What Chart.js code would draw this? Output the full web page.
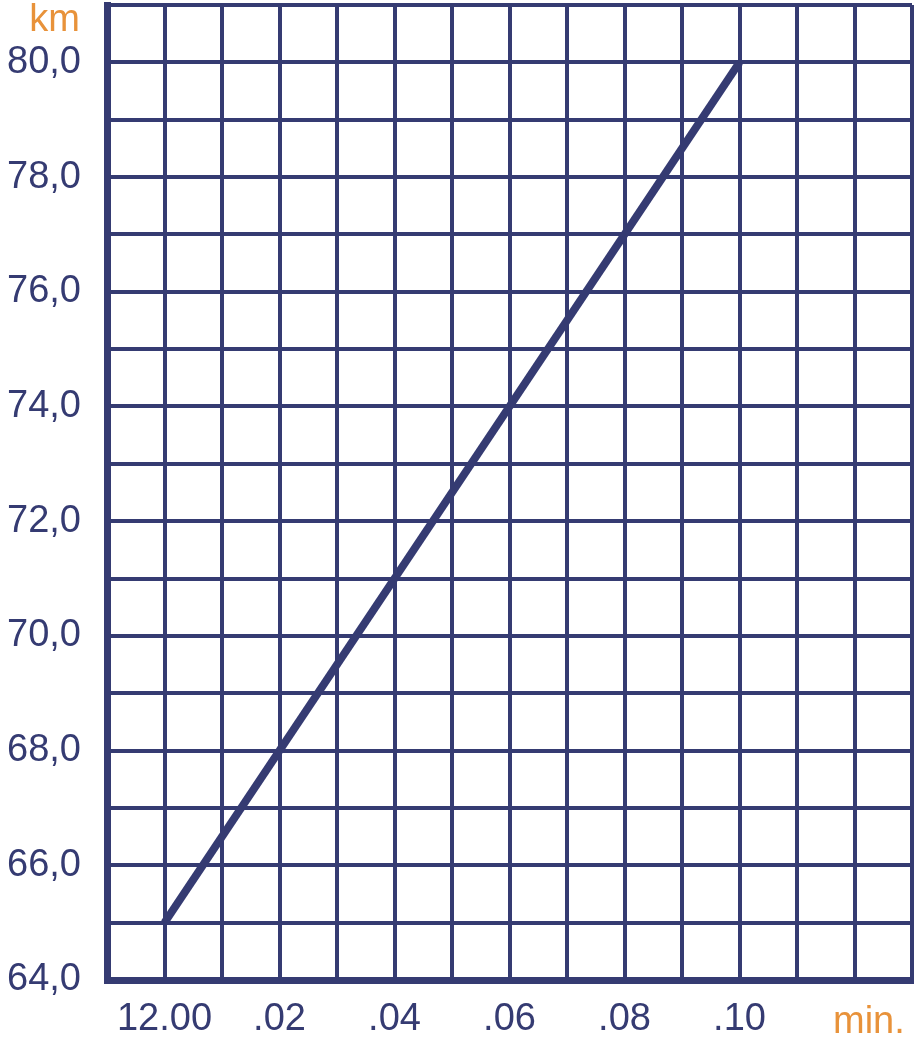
<!DOCTYPE html>
<html>
<head>
<meta charset="utf-8">
<script src="https://cdn.jsdelivr.net/npm/chart.js@4"></script>
<style>
  html, body { margin: 0; padding: 0; background: #fff; }
  #wrap { width: 917px; height: 1037px; }
</style>
</head>
<body>
<div id="wrap"><canvas id="myChart"></canvas></div>
<script>
// minutes after 12.00 and distance in km
var minutes = [0, 10];
var distances = [65, 80];

// tick labels
var yTickLabels = { 64: "64,0", 66: "66,0", 68: "68,0", 70: "70,0", 72: "72,0", 74: "74,0", 76: "76,0", 78: "78,0", 80: "80,0" };
var xTickLabels = { 0: "12.00", 2: ".02", 4: ".04", 6: ".06", 8: ".08", 10: ".10" };
var yUnit = "km";
var xUnit = "min.";

var navy = "#353b72";
var orange = "#e8923a";
var font = "'Liberation Sans', Arial, sans-serif";

var points = [];
for (var i = 0; i < minutes.length; i++) {
    points.push({ x: minutes[i], y: distances[i] });
}

// unit labels (km / min.)
var unitLabels = {
    id: 'unitLabels',
    afterDraw: function (chart) {
        var ctx = chart.ctx;
        ctx.save();
        ctx.fillStyle = orange;
        ctx.font = "38px " + font;
        ctx.textBaseline = "alphabetic";
        ctx.textAlign = "right";
        ctx.fillText(yUnit, 80, 31);
        ctx.textAlign = "left";
        ctx.fillText(xUnit, 833, 1033);
        ctx.restore();
    }
};

var myChart = new Chart(document.getElementById('myChart').getContext('2d'), {
    type: 'line',
    data: {
        datasets: [{
            data: points,
            borderColor: navy,
            borderWidth: 8,
            pointRadius: 0,
            fill: false,
            tension: 0
        }]
    },
    options: {
        responsive: true,
        maintainAspectRatio: false,
        animation: false,
        layout: { padding: { top: 5, right: 5, left: 0, bottom: 0 } },
        plugins: { legend: { display: false }, tooltip: { enabled: false } },
        scales: {
            x: {
                type: 'linear',
                min: -1,
                max: 13,
                grid: { color: navy, lineWidth: 4, drawTicks: false },
                border: { display: true, color: navy, width: 7 },
                ticks: {
                    stepSize: 1,
                    autoSkip: false,
                    maxRotation: 0,
                    padding: 17,
                    color: navy,
                    font: { size: 38, family: font },
                    callback: function (v) { return xTickLabels[v] || ''; }
                },
                afterFit: function (s) {
                    s.height = 57;
                    s.paddingLeft = 0;
                    s.paddingRight = 0;
                }
            },
            y: {
                type: 'linear',
                min: 64,
                max: 81,
                grid: { color: navy, lineWidth: 4, drawTicks: false },
                border: { display: true, color: navy, width: 7 },
                ticks: {
                    stepSize: 1,
                    autoSkip: false,
                    padding: 26,
                    color: navy,
                    font: { size: 38, family: font },
                    callback: function (v) { return yTickLabels[v] || ''; }
                },
                afterFit: function (s) {
                    s.width = 107;
                    s.paddingTop = 0;
                    s.paddingBottom = 0;
                }
            }
        }
    },
    plugins: [unitLabels]
});
</script>
</body>
</html>
